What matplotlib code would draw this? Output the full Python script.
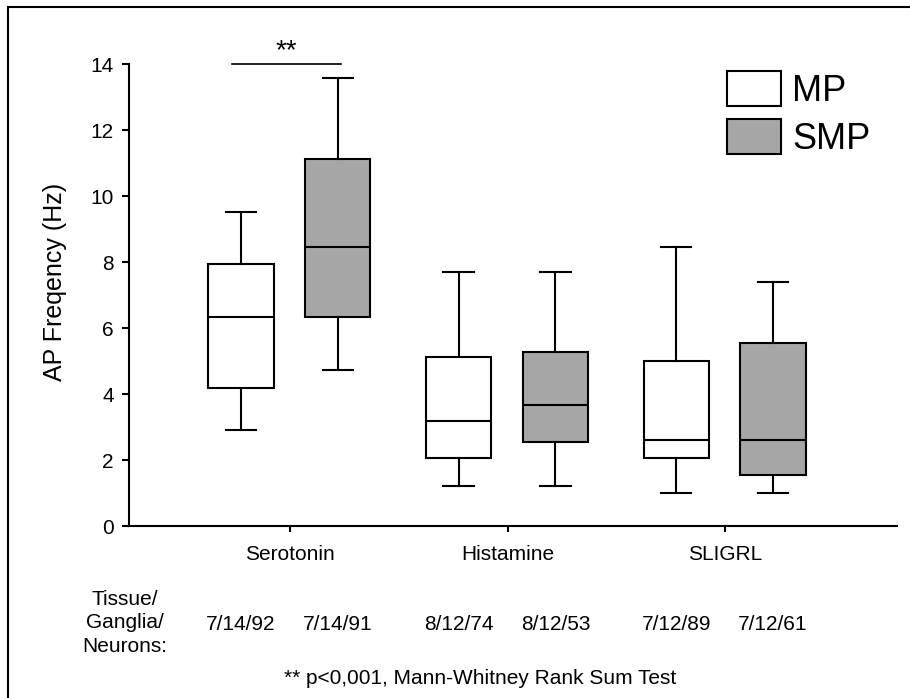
import numpy as np
import matplotlib
matplotlib.use('Agg')
import matplotlib.pyplot as plt
from matplotlib.patches import Patch, Rectangle

plt.rcParams['font.family'] = ['Liberation Sans', 'DejaVu Sans']

# 数据
categories = ['Serotonin', 'Histamine', 'SLIGRL']
groups = ['MP', 'SMP']
# 每组: [下须, Q1, 中位数, Q3, 上须]
mp_stats = [[2.92, 4.19, 6.33, 7.93, 9.52],
            [1.22, 2.07, 3.19, 5.11, 7.71],
            [1.00, 2.07, 2.61, 5.00, 8.45]]
smp_stats = [[4.73, 6.34, 8.46, 11.12, 13.57],
             [1.22, 2.55, 3.68, 5.26, 7.71],
             [1.00, 1.54, 2.61, 5.54, 7.39]]
mp_counts = ['7/14/92', '8/12/74', '7/12/89']
smp_counts = ['7/14/91', '8/12/53', '7/12/61']
sig_level = 14.0
sig_label = '**'
footnote = '** p<0,001, Mann-Whitney Rank Sum Test'
ylabel = 'AP Freqency (Hz)'

colors = {'MP': 'white', 'SMP': '#a6a6a6'}
W, H = 910, 698

fig = plt.figure(figsize=(W / 100, H / 100), dpi=100)
ax = fig.add_axes([129 / W, 1 - 526 / H, (897 - 129) / W, (526 - 64) / H])

centers = np.arange(1, len(categories) + 1)
offsets = {'MP': -0.225, 'SMP': 0.22}

def to_bxp(s):
    return dict(whislo=s[0], q1=s[1], med=s[2], q3=s[3], whishi=s[4], fliers=[])

lw = 1.5
for g, stats in zip(groups, [mp_stats, smp_stats]):
    ax.bxp([to_bxp(s) for s in stats], positions=centers + offsets[g], widths=0.30,
           patch_artist=True, showfliers=False, manage_ticks=False,
           boxprops=dict(facecolor=colors[g], edgecolor='black', linewidth=lw),
           medianprops=dict(color='black', linewidth=lw),
           whiskerprops=dict(color='black', linewidth=lw),
           capprops=dict(color='black', linewidth=lw), capwidths=0.14)

ax.set_xlim(0.26, 3.79)
ax.set_ylim(0, 14)
ax.set_yticks(np.arange(0, 15, 2))
ax.set_xticks(centers)
ax.set_xticklabels(categories)
ax.spines['top'].set_visible(False)
ax.spines['right'].set_visible(False)
for sp in ['left', 'bottom']:
    ax.spines[sp].set_linewidth(lw)
ax.tick_params(axis='y', length=5, width=lw, pad=6, labelsize=15)
ax.tick_params(axis='x', length=4.5, width=lw, pad=9, labelsize=15)
ax.set_ylabel(ylabel, fontsize=18)
ax.yaxis.set_label_coords(-0.081, 0.528)

# 显著性标记
ax.plot([0.735, 1.235], [sig_level, sig_level], color='black', lw=1.2, clip_on=False)
ax.text(0.985, sig_level - 0.02, sig_label, ha='center', va='bottom', fontsize=20)

# 图例
handles = [Patch(facecolor=colors[g], edgecolor='black', linewidth=lw, label=g) for g in groups]
ax.legend(handles=handles, loc='upper left', bbox_to_anchor=(727 / W, 1 - 71 / H),
          bbox_transform=fig.transFigure, frameon=False, fontsize=26, borderpad=0,
          borderaxespad=0, handlelength=1.5, handleheight=1.1, handletextpad=0.3,
          labelspacing=0.3)

# 样本数
xt = ax.get_xaxis_transform()
cy = -(624 - 526) / 462
for i in range(len(categories)):
    ax.text(centers[i] + offsets['MP'], cy, mp_counts[i], transform=xt, ha='center', va='center', fontsize=15)
    ax.text(centers[i] + offsets['SMP'], cy, smp_counts[i], transform=xt, ha='center', va='center', fontsize=15)
fig.text(125 / W, 1 - 623 / H, 'Tissue/\nGanglia/\nNeurons:', ha='center', va='center',
         fontsize=15, linespacing=1.3)
fig.text(480 / W, 1 - 678 / H, footnote, ha='center', va='center', fontsize=15)

# 外框
fig.add_artist(Rectangle((8 / W, -0.1), 1.2, 1.1 - 7 / H, transform=fig.transFigure,
                         fill=False, edgecolor='black', linewidth=1.5, clip_on=False))

fig.savefig('out.png', dpi=100)
